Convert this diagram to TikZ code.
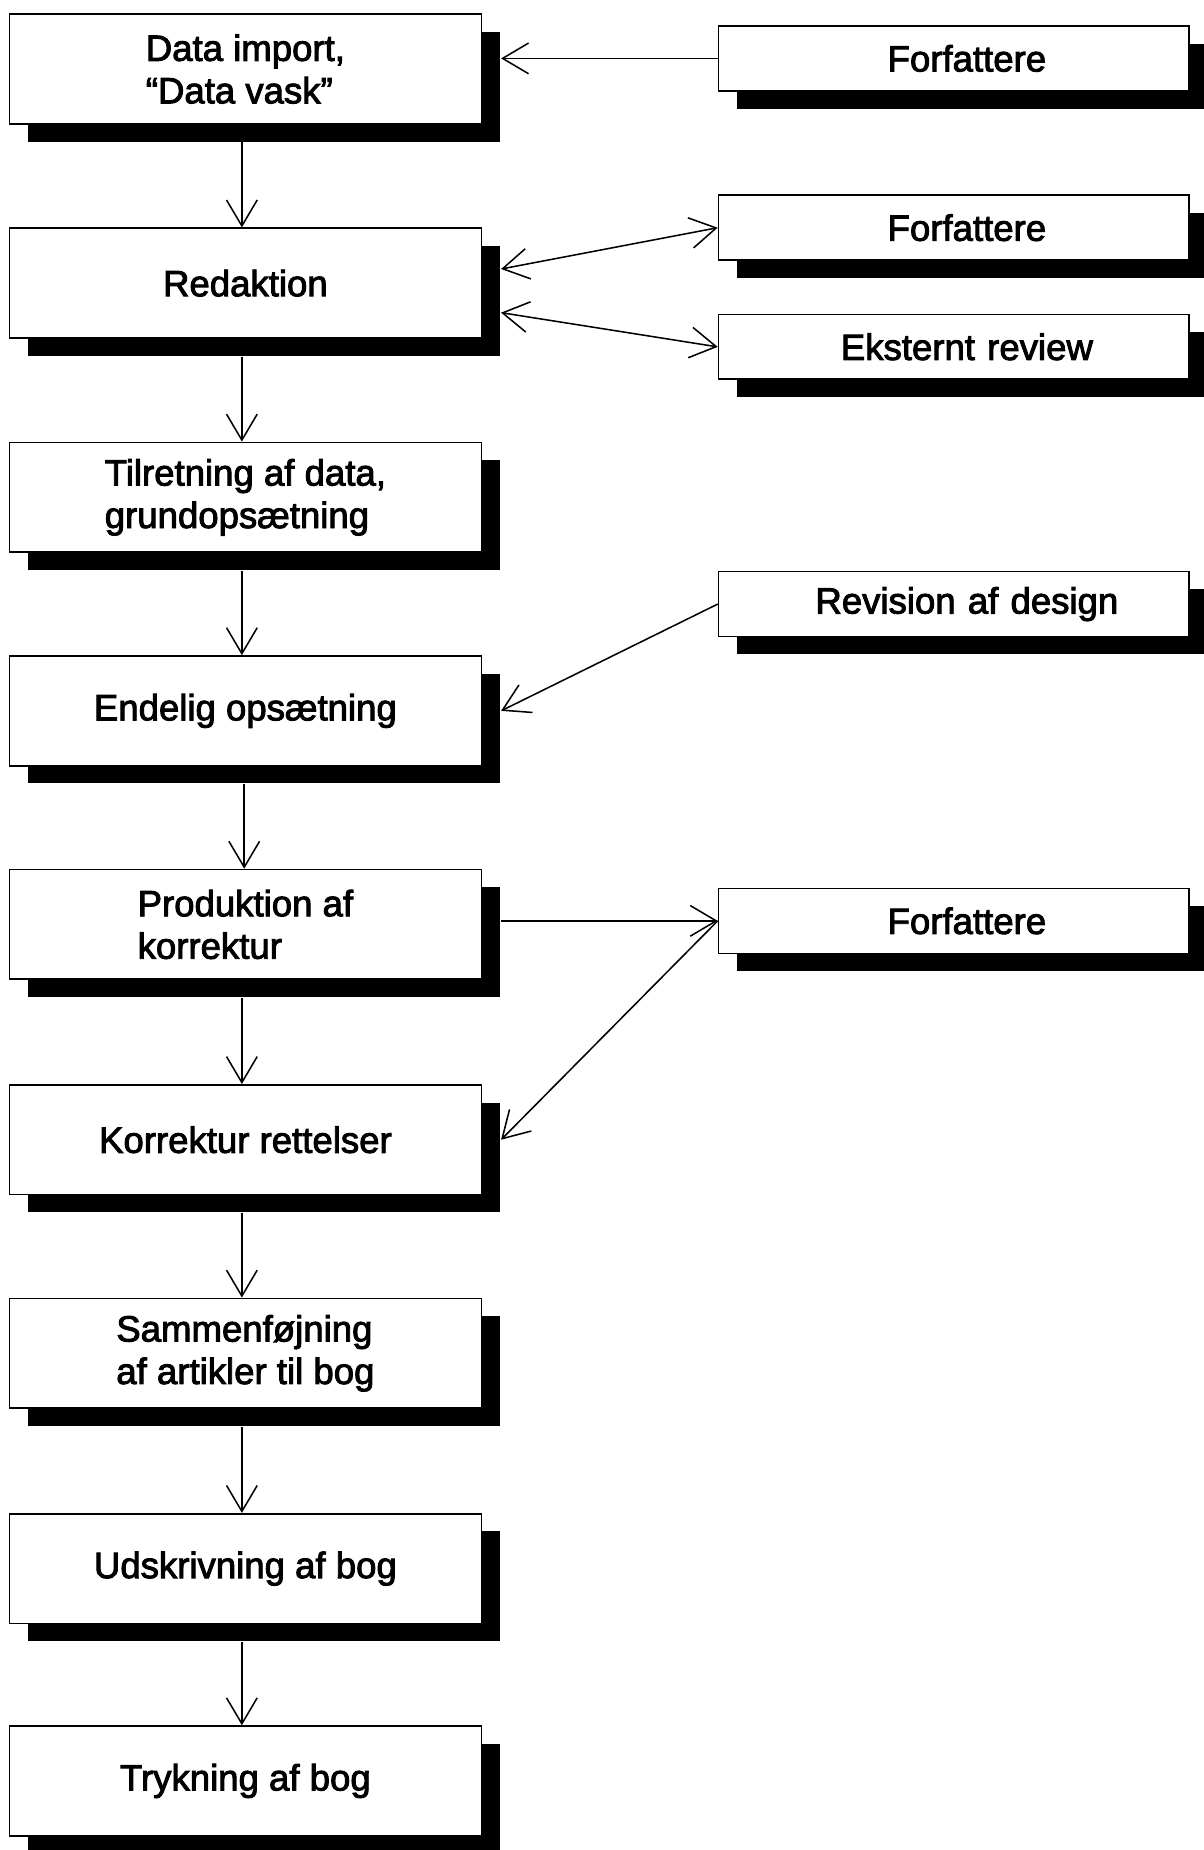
\documentclass[tikz,border=0pt]{standalone}
\usepackage{fontspec}
\setmainfont{Liberation Sans}
\newfontfamily\boxfont{Liberation Sans}[FakeBold=2.5]
\usetikzlibrary{arrows.meta,shadows,calc}
\begin{document}
\begin{tikzpicture}[x=1pt,y=-1pt,
  box/.style={draw=black,line width=1.4pt,fill=white,rectangle,
    drop shadow={shadow xshift=16pt,shadow yshift=-15pt,fill=black,opacity=1},
    font=\boxfont\fontsize{31}{36}\selectfont,align=left,inner sep=0pt},
  lbox/.style={box,minimum width=400pt,minimum height=93pt},
  rbox/.style={box,minimum width=399pt,minimum height=55pt,text width=399pt,align=center},
  arr/.style={line width=1.3pt,-{Straight Barb[length=22pt,width=26pt,line width=1.3pt]}},
  darr/.style={line width=1.3pt,{Straight Barb[length=22pt,width=26pt,line width=1.3pt]}-{Straight Barb[length=22pt,width=26pt,line width=1.3pt]}}
]
\useasboundingbox (0,0) rectangle (1020,1568);
\fill[white] (0,0) rectangle (1020,1568);

\node[lbox] (b1) at (208,58.5) {Data import,\\“Data vask”};
\node[lbox] (b2) at (208,240) {Redaktion};
\node[lbox] (b3) at (208,421.5) {Tilretning af data,\\grundopsætning};
\node[lbox] (b4) at (208,602.5) {Endelig opsætning};
\node[lbox] (b5) at (208,783.5) {Produktion af\\korrektur};
\node[lbox] (b6) at (208,966) {Korrektur rettelser};
\node[lbox] (b7) at (208,1147) {Sammenføjning\\af artikler til bog};
\node[lbox] (b8) at (208,1329.5) {Udskrivning af bog};
\node[lbox] (b9) at (208,1509.5) {Trykning af bog};

\node[rbox] (r1) at (808.5,49.5) {\hspace*{22pt}Forfattere};
\node[rbox] (r2) at (808.5,193) {\hspace*{22pt}Forfattere};
\node[rbox] (r3) at (808.5,294) {\hspace*{22pt}Eksternt review};
\node[rbox] (r4) at (808.5,512) {\hspace*{22pt}Revision af design};
\node[rbox] (r5) at (808.5,780.5) {\hspace*{22pt}Forfattere};

% vertical arrows (from shadow bottom to next box top)
\draw[arr] ([xshift=-3pt,yshift=-15pt]b1.south) -- ([xshift=-3pt]b2.north);
\draw[arr] ([xshift=-3pt,yshift=-15pt]b2.south) -- ([xshift=-3pt]b3.north);
\draw[arr] ([xshift=-3pt,yshift=-15pt]b3.south) -- ([xshift=-3pt]b4.north);
\draw[arr] ([xshift=-1pt,yshift=-15pt]b4.south) -- ([xshift=-1pt]b5.north);
\draw[arr] ([xshift=-3pt,yshift=-15pt]b5.south) -- ([xshift=-3pt]b6.north);
\draw[arr] ([xshift=-3pt,yshift=-15pt]b6.south) -- ([xshift=-3pt]b7.north);
\draw[arr] ([xshift=-3pt,yshift=-15pt]b7.south) -- ([xshift=-3pt]b8.north);
\draw[arr] ([xshift=-3pt,yshift=-15pt]b8.south) -- ([xshift=-3pt]b9.north);

% side connectors
\draw[arr] (r1.west) -- ([xshift=16pt]b1.east |- r1.west);
\draw[darr] ([xshift=16pt,yshift=12pt]b2.east) -- (r2.west);
\draw[darr] ([xshift=16pt,yshift=-25pt]b2.east) -- (r3.west);
\draw[arr] (r4.west) -- ([xshift=16pt]b4.east);
\draw[arr] ([xshift=16pt]b5.east |- r5.west) -- (r5.west);
\draw[arr] (r5.west) -- ([xshift=16pt]b6.east);
\end{tikzpicture}
\end{document}
